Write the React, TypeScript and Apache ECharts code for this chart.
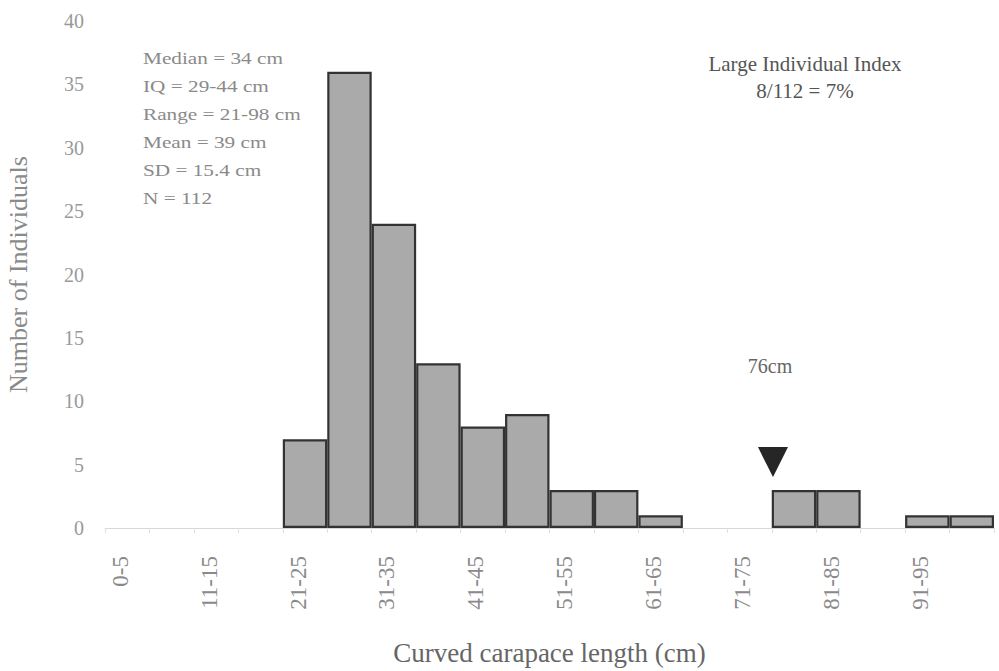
import React, { useEffect, useRef } from "react";
import * as echarts from "echarts";

// Size classes of curved carapace length (cm), 5 cm bins
const categories = [
  "0-5", "6-10", "11-15", "16-20", "21-25", "26-30", "31-35", "36-40", "41-45", "46-50",
  "51-55", "56-60", "61-65", "66-70", "71-75", "76-80", "81-85", "86-90", "91-95", "96-100",
];
// Number of individuals in each bin
const counts = [0, 0, 0, 0, 7, 36, 24, 13, 8, 9, 3, 3, 1, 0, 0, 3, 3, 0, 1, 1];

const yTicks = [0, 5, 10, 15, 20, 25, 30, 35, 40];

const statsLines = [
  "Median = 34 cm",
  "IQ = 29-44 cm",
  "Range = 21-98 cm",
  "Mean = 39 cm",
  "SD = 15.4 cm",
  "N = 112",
];
const indexLines = ["Large Individual Index", "8/112 = 7%"];

// Large-individual threshold marker
const thresholdBin = "76-80";
const thresholdLabel = "76cm";

const FONT = "'Liberation Serif', 'DejaVu Serif', serif";

export default function App() {
  const ref = useRef<HTMLDivElement>(null);

  useEffect(() => {
    if (!ref.current) return;
    const chart = echarts.init(ref.current, null, { renderer: "svg" });
    chart.setOption({
      animation: false,
      backgroundColor: "#ffffff",
      textStyle: { fontFamily: FONT },
      grid: {
        left: 105,
        right: 5,
        top: 21,
        bottom: 143,
        containLabel: false,
        outerBoundsMode: "none",
      },
      xAxis: {
        type: "category",
        data: categories,
        name: "Curved carapace length (cm)",
        nameLocation: "middle",
        nameGap: 111,
        nameTextStyle: { fontFamily: FONT, fontSize: 27, color: "#666" },
        axisLine: { show: true, lineStyle: { color: "#d8d8d8", width: 1 } },
        axisTick: { show: true, interval: 0, length: 5, lineStyle: { color: "#e0e0e0" } },
        axisLabel: {
          interval: 1,
          rotate: 90,
          margin: 28,
          verticalAlign: "bottom",
          lineHeight: 14,
          fontFamily: FONT,
          fontSize: 23,
          color: "#8a8a8a",
        },
        splitLine: { show: false },
      },
      yAxis: {
        type: "value",
        min: yTicks[0],
        max: yTicks[yTicks.length - 1],
        interval: 5,
        name: "Number of Individuals",
        nameLocation: "middle",
        nameGap: 74,
        nameTextStyle: { fontFamily: FONT, fontSize: 26, color: "#8a8a8a" },
        axisLine: { show: false },
        axisTick: { show: false },
        splitLine: { show: false },
        axisLabel: { margin: 21, fontFamily: FONT, fontSize: 20, color: "#999" },
      },
      series: [
        {
          type: "bar",
          data: counts.map((v) => (v === 0 ? "-" : v)),
          barWidth: "100%",
          barCategoryGap: 0,
          itemStyle: { color: "#aaaaaa", borderColor: "#333", borderWidth: 2.2 },
          markPoint: {
            silent: true,
            data: [
              {
                coord: [thresholdBin, 5.2],
                symbol: "triangle",
                symbolRotate: 180,
                symbolSize: [30, 30],
                symbolOffset: [-21, 0],
                itemStyle: { color: "#262626" },
                label: { show: false },
              },
              {
                coord: [thresholdBin, 12.8],
                symbol: "circle",
                symbolSize: 0,
                label: {
                  show: true,
                  position: "inside",
                  offset: [-24, 0],
                  formatter: thresholdLabel,
                  fontFamily: FONT,
                  fontSize: 20,
                  color: "#666",
                },
              },
            ],
          },
        },
      ],
      graphic: [
        {
          type: "text",
          x: 143,
          y: 44,
          scaleX: 1.25,
          style: {
            text: statsLines.join("\n"),
            font: `17px ${FONT}`,
            lineHeight: 28,
            fill: "#8a8a8a",
            verticalAlign: "top",
          },
        },
        {
          type: "text",
          x: 805,
          y: 51,
          scaleX: 1.05,
          style: {
            text: indexLines.join("\n"),
            font: `20px ${FONT}`,
            lineHeight: 27,
            fill: "#555",
            textAlign: "center",
            verticalAlign: "top",
          },
        },
      ],
    });
    return () => chart.dispose();
  }, []);

  return (
    <div
      ref={ref}
      style={{ position: "fixed", left: 0, top: 0, width: 999, height: 671 }}
    />
  );
}
